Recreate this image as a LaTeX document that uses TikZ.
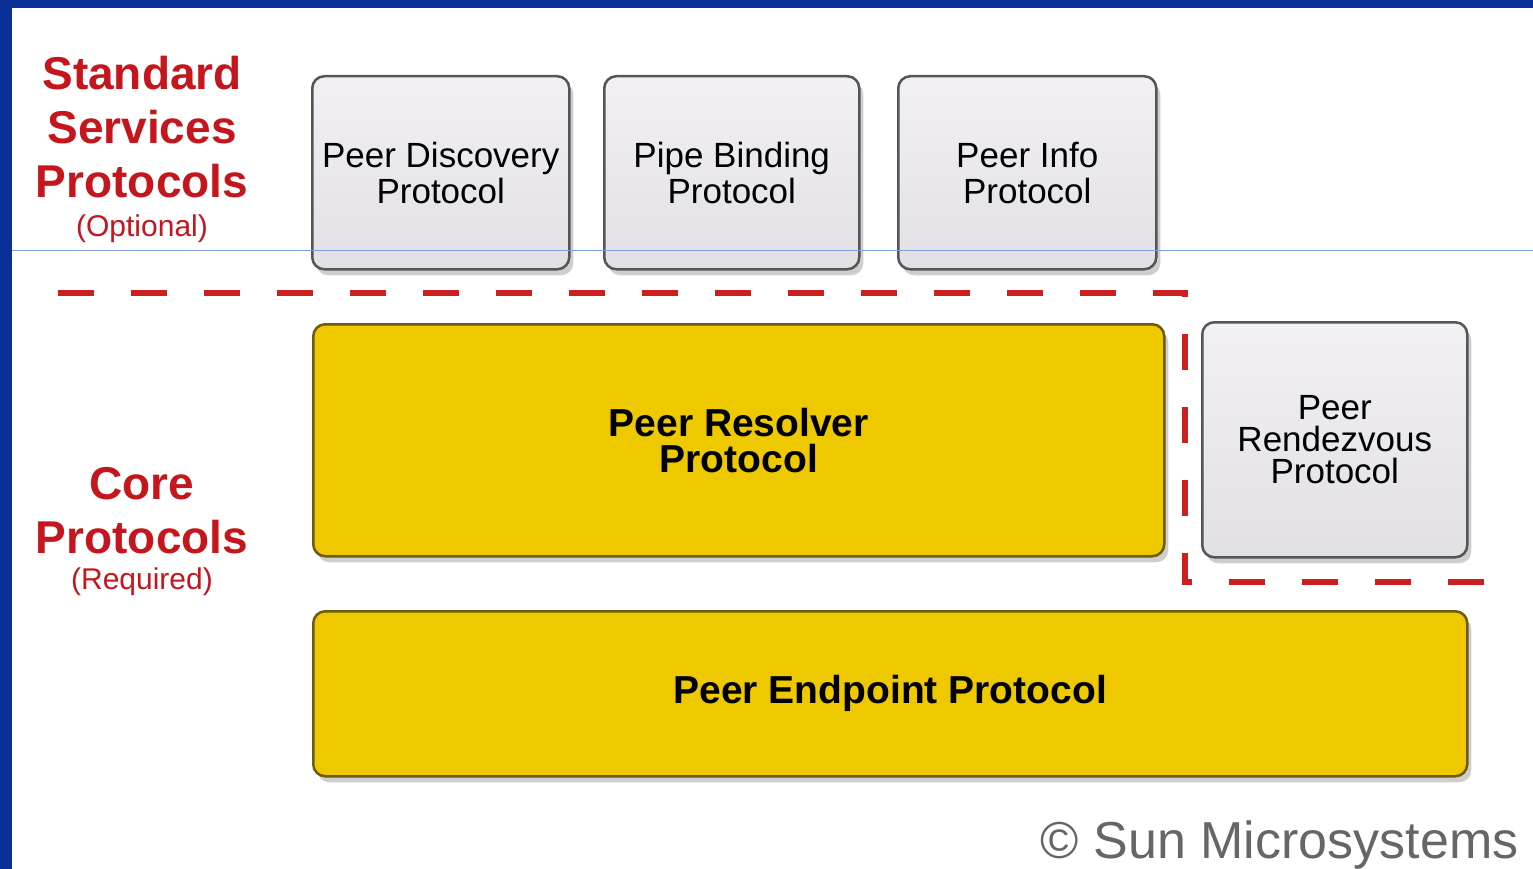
\documentclass[tikz,border=0pt]{standalone}
\usepackage{fontspec}
\setmainfont{Liberation Sans}
\usetikzlibrary{shadows}
\definecolor{frameblue}{HTML}{0A2F96}
\definecolor{rulerblue}{HTML}{7F9FDD}
\definecolor{headred}{HTML}{C4161C}
\definecolor{dashred}{HTML}{CC2020}
\definecolor{boxedge}{HTML}{555555}
\definecolor{boxtop}{HTML}{F2F0F4}
\definecolor{boxbottom}{HTML}{E2E0E4}
\definecolor{protoyellow}{HTML}{EEC900}
\definecolor{yellowedge}{HTML}{6E5A10}
\definecolor{copygray}{HTML}{666666}
\begin{document}
\begin{tikzpicture}[x=1pt,y=-1pt,
  graybox/.style={draw=boxedge, line width=2.5pt, rounded corners=12pt,
    top color=boxtop, bottom color=boxbottom, inner sep=0pt, align=center,
    anchor=north west, text=black,
    font=\fontsize{35}{36}\selectfont,
    drop shadow={shadow xshift=4pt, shadow yshift=-6pt, opacity=0.35, fill=black!55}},
  yellowbox/.style={draw=yellowedge, line width=2.5pt, rounded corners=12pt,
    fill=protoyellow, inner sep=0pt, align=center, anchor=north west, text=black,
    font=\bfseries\fontsize{39}{36}\selectfont,
    drop shadow={shadow xshift=4pt, shadow yshift=-6pt, opacity=0.35, fill=black!55}},
  heading/.style={text=headred, align=center, font=\bfseries\fontsize{46}{54}\selectfont},
  subheading/.style={text=headred, align=center, font=\fontsize{30}{32}\selectfont},
  boundary/.style={draw=dashred, line width=6pt, dash pattern=on 36pt off 37pt}
]
\useasboundingbox (0,0) rectangle (1533,869);
\fill[white] (0,0) rectangle (1533,869);
\fill[frameblue] (0,0) rectangle (1533,8);
\fill[frameblue] (0,0) rectangle (12,869);

% headings
\node[heading] (stdhead) at (142,127) {Standard\\Services\\Protocols};
\node[subheading] (opt) at (142,229) {(Optional)};
\node[heading] (corehead) at (142,511) {Core\\Protocols};
\node[subheading] (req) at (142,582) {(Required)};

% standard services boxes
\node[graybox, minimum width=257pt, minimum height=193pt] (disc) at (311,75) {Peer Discovery\\Protocol};
\node[graybox, minimum width=255pt, minimum height=193pt] (pipe) at (603,75) {Pipe Binding\\Protocol};
\node[graybox, minimum width=258pt, minimum height=193pt] (info) at (897,75) {Peer Info\\Protocol};

% core boxes
\node[yellowbox, minimum width=851pt, minimum height=232pt] (resolver) at (312,323) {Peer Resolver\\Protocol};
\node[graybox, minimum width=265pt, minimum height=235pt, font=\fontsize{35}{32}\selectfont] (rdv) at (1201,321) {Peer\\Rendezvous\\Protocol};
\node[yellowbox, minimum width=1154pt, minimum height=165pt] (endpoint) at (312,610) {Peer Endpoint Protocol};

% boundary between optional and core
\coordinate (b0) at (58,293);
\coordinate (b1) at (1185,293);
\coordinate (b2) at (1185,582);
\coordinate (b3) at (1492,582);
\draw[boundary] (b0) -- (b1) -- (b2) -- (b3);

% thin ruler line
\draw[rulerblue, line width=1pt] (12,250) -- (1533,250);

% copyright
\node[text=copygray, anchor=base east, font=\fontsize{52}{52}\selectfont] (copy) at (1522,858) {© Sun Microsystems};
\end{tikzpicture}
\end{document}
